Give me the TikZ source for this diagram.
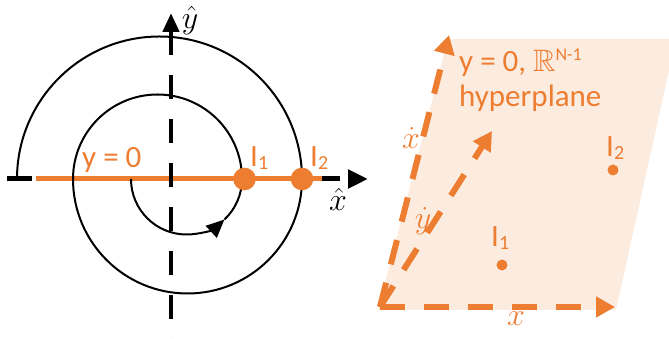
\documentclass[tikz,border=0pt]{standalone}
\usepackage{fix-cm}
\usepackage{amssymb}
\usepackage{fontspec}
\setmainfont{Carlito}
\usetikzlibrary{positioning, arrows.meta}
\definecolor{plotorange}{HTML}{ED7D31}
\newcommand{\lowidx}[1]{\raisebox{-3pt}{\fontsize{20}{20}\selectfont #1}}

\begin{document}
\begin{tikzpicture}[
  x=1pt, y=1pt,
  font=\fontsize{31}{35}\selectfont,
  spiral/.style={draw=black, line width=2pt},
  axisline/.style={draw=black, line width=4.5pt},
  zeroline/.style={draw=plotorange, line width=5pt},
  planearrow/.style={draw=plotorange, line width=6pt, dash pattern=on 25pt off 19pt,
    -{Triangle[length=19pt, width=20pt]}},
  lbl/.style={text=plotorange, inner sep=0pt, anchor=base west},
  mathlbl/.style={inner sep=0pt, font=\fontsize{32}{34}\selectfont},
  bigdot/.style={circle, fill=plotorange, minimum size=22.6pt, inner sep=0pt},
  smalldot/.style={circle, fill=plotorange, minimum size=11pt, inner sep=0pt},
]
\clip (0,0) rectangle (669,339);

% left: spiral in the (x, y) plane
\coordinate (ytop) at (171,326);
\coordinate (ybot) at (171,0);
\coordinate (xleft) at (7,160);
\coordinate (xstub) at (32,160);
\coordinate (xmid) at (322,160);
\coordinate (xtip) at (368,160);
\coordinate (zstart) at (36,160);
\coordinate (zend) at (322,160);
\coordinate (sstart) at (131,160);
\coordinate (sarrow) at ([shift={(313:55.5)}]186.5,160);

\draw[zeroline] (zstart) -- (zend);
\draw[axisline, {Triangle[length=19pt, width=16pt]}-, dash pattern=on 24pt off 20pt] (ytop) -- (ybot);
\draw[axisline, line width=5pt] (xleft) -- (xstub);
\draw[axisline, line width=5pt, dash pattern=on 18pt off 8pt,
  -{Triangle[length=20pt, width=18pt]}] (xmid) -- (xtip);

\draw[spiral, -{Triangle[length=18pt, width=16pt]}] (sstart)
  arc[start angle=180, end angle=313, radius=55.5];
\draw[spiral] (sarrow) arc[start angle=313, end angle=360, radius=55.5]
  arc[start angle=0, end angle=180, radius=84.5]
  arc[start angle=180, end angle=360, radius=114.5]
  arc[start angle=0, end angle=180, radius=142.5];

\node[bigdot] (pone) at (244.5,160) {};
\node[bigdot] (ptwo) at (302,160) {};
\node[lbl] (zerolab) at (82,171) {y = 0};
\node[lbl] (ponelab) at (250,172) {I\lowidx{1}};
\node[lbl] (ptwolab) at (310,172) {I\lowidx{2}};
\node[mathlbl] (yhat) at (190,318) {$\hat{y}$};
\node[mathlbl] (xhat) at (338,140) {$\hat{x}$};

% right: the y = 0 hyperplane
\coordinate (porigin) at (380,32);
\coordinate (pxend) at (615,32);
\coordinate (pxdotend) at (449,304);
\coordinate (pydotend) at (492,208);

\fill[plotorange!15] (378,29) -- (616,29) -- (676,300) -- (448,300) -- cycle;
\draw[planearrow] (porigin) -- (pxend);
\draw[planearrow] (porigin) -- (pxdotend);
\draw[planearrow] (porigin) -- (pydotend);

\node[lbl] (planetitle) at (459,267) {y = 0, $\mathbb{R}$\raisebox{11pt}{\fontsize{18}{18}\selectfont N-1}};
\node[lbl] (planeword) at (459,232) {hyperplane};
\node[mathlbl, text=plotorange] (xdotlab) at (411,201) {$\dot{x}$};
\node[mathlbl, text=plotorange] (ydotlab) at (423,118) {$\dot{y}$};
\node[mathlbl, text=plotorange] (xlab) at (516,20) {$x$};

\node[smalldot] (qone) at (502,74) {};
\node[smalldot] (qtwo) at (613,169) {};
\node[lbl] (qonelab) at (491,92) {I\lowidx{1}};
\node[lbl] (qtwolab) at (606,182) {I\lowidx{2}};

\end{tikzpicture}
\end{document}
